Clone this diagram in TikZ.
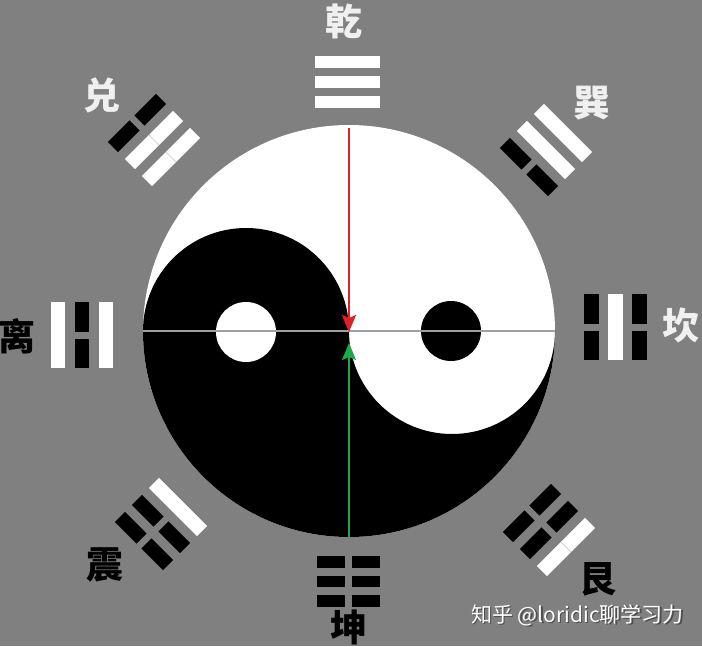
\documentclass[tikz,border=0pt]{standalone}
\usepackage{fontspec}
\newfontfamily\cjk{Noto Sans CJK SC}
\usetikzlibrary{arrows.meta}

\definecolor{bggray}{RGB}{128,128,128}
\definecolor{arrowred}{RGB}{226,30,40}
\definecolor{arrowgreen}{RGB}{30,168,72}

\tikzset{
  yangbar/.style={fill=white},
  yinbar/.style={fill=black},
  guaname/.style={font=\cjk\bfseries\fontsize{37}{37}\selectfont, inner sep=0pt},
  marktext/.style={font=\cjk\fontsize{21}{21}\selectfont, inner sep=0pt},
  axisline/.style={draw=gray!75, line width=1.2pt},
  qiarrow/.style={line width=2.4pt, -{Stealth[length=17pt, width=14pt, inset=3pt]}}
}

% #1 centre, #2 rotation, #3 bar length, #4 pitch, #5 bars outer to inner
% (1 = yang, 2 = yang with seam, 0 = yin)
\newcommand{\gua}[5]{%
  \begin{scope}[shift={#1}, rotate=#2]
    \foreach \b [count=\i] in {#5} {
      \pgfmathsetmacro{\yy}{(2-\i)*#4}
      \pgfmathsetmacro{\hw}{0.3*#4}
      \ifnum\b=0
        \fill[yinbar] (-#3/2, \yy-\hw) rectangle (-3.5, \yy+\hw);
        \fill[yinbar] (3.5, \yy-\hw) rectangle (#3/2, \yy+\hw);
      \else
        \fill[yangbar] (-#3/2, \yy-\hw) rectangle (#3/2, \yy+\hw);
        \ifnum\b=2
          \draw[gray!35, line width=0.8pt] (0, \yy-\hw) -- (0, \yy+\hw);
        \fi
      \fi
    }
  \end{scope}}

\begin{document}
\begin{tikzpicture}[x=1pt, y=1pt]
  \useasboundingbox (-349,-315) rectangle (353,331);
  \fill[bggray] (-349,-315) rectangle (353,331);

  % taiji
  \fill[white] (0,0) circle [radius=206];
  \fill[black] (-206,0) arc [start angle=180, end angle=360, radius=206]
    arc [start angle=0, end angle=-180, radius=103]
    arc [start angle=0, end angle=180, radius=103] -- cycle;
  \fill[white] (-103,-1) circle [radius=30];
  \fill[black] (102,0) circle [radius=30];

  \coordinate (west) at (-206,0);
  \coordinate (east) at (206,0);
  \coordinate (top) at (0,203);
  \coordinate (bottom) at (0,-206);
  \coordinate (redtip) at (0,-1);
  \coordinate (greentip) at (0,-12);

  \draw[axisline] (west) -- (east);
  \draw[qiarrow, arrowred] (top) -- (redtip);
  \draw[qiarrow, arrowgreen] (bottom) -- (greentip);

  % eight trigrams
  \gua{(-1.5,248.5)}{0}{65}{20}{1,1,1}
  \gua{(-0.5,-250.5)}{180}{63}{19.5}{0,0,0}
  \gua{(-267,-4)}{90}{66}{24}{1,0,1}
  \gua{(266.5,4)}{-90}{66}{24}{0,1,0}
  \gua{(-195,191)}{45}{68}{24}{0,2,2}
  \gua{(197,181)}{-45}{68}{24}{1,1,0}
  \gua{(-188,-193)}{135}{68}{24}{0,0,1}
  \gua{(200,-199)}{-135}{68}{24}{2,0,0}

  % names
  \node[guaname, white!94!black] (qian) at (-4.5,309.5) {乾};
  \node[guaname, white!94!black] (dui) at (-246.5,235.5) {兑};
  \node[guaname, white!94!black] (xun) at (242.5,227.5) {巽};
  \node[guaname, white!94!black] (kan) at (331.5,6) {坎};
  \node[guaname, black] (li) at (-331.5,-5.5) {离};
  \node[guaname, black] (zhen) at (-244,-234) {震};
  \node[guaname, black] (gen) at (248.5,-248.5) {艮};
  \node[guaname, black] (kun) at (0,-296) {坤};

  \node[marktext, black!70] (markshadow) at (229.8,-285.3) {知乎 @loridic聊学习力};
  \node[marktext, white] (mark) at (228.5,-284) {知乎 @loridic聊学习力};
\end{tikzpicture}
\end{document}
